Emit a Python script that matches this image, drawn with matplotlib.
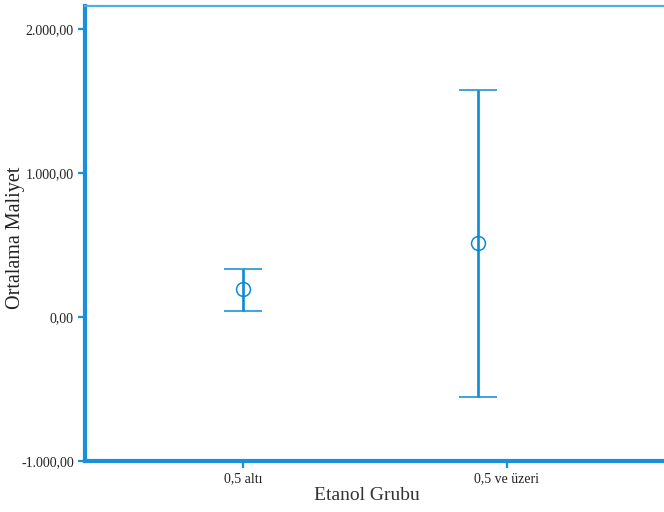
import matplotlib
matplotlib.use("Agg")
import matplotlib.pyplot as plt
from matplotlib.ticker import FuncFormatter

categories = ["0,5 altı", "0,5 ve üzeri"]
means = [194.0, 514.0]
upper = [333.0, 1576.0]
lower = [42.0, -556.0]
y_ticks = [-1000, 0, 1000, 2000]

bar_pos = [0.0, 0.89]
tick_pos = [0.0, 1.0]

blue = "#0b8bd3"
fig = plt.figure(figsize=(6.64, 5.12), dpi=100)
ax = fig.add_axes([85/664, 1-461/512, 580/664, 455/512])

yerr = [[m - l for m, l in zip(means, lower)], [u - m for m, u in zip(means, upper)]]
ax.errorbar(bar_pos, means, yerr=yerr, fmt="o", color=blue, ecolor=blue,
            elinewidth=1.9, capsize=14, capthick=1.9, markersize=10,
            markerfacecolor="none", markeredgecolor=blue, markeredgewidth=1.1)

ax.set_xlim(-0.6, 1.6)
ax.set_ylim(-1000, 2160)
ax.set_xticks(tick_pos)
ax.set_xticklabels(categories)
ax.set_yticks(y_ticks)

def fmt(v, pos):
    s = f"{abs(v):,.2f}".replace(",", "X").replace(".", ",").replace("X", ".")
    return ("-" if v < 0 else "") + s
ax.yaxis.set_major_formatter(FuncFormatter(fmt))

serif = "Liberation Serif"
for lab in ax.get_xticklabels() + ax.get_yticklabels():
    lab.set_fontfamily(serif)
    lab.set_fontsize(10)
    lab.set_color("#222222")

ax.set_xlabel("Etanol Grubu", fontfamily=serif, fontsize=14, color="#333333")
ax.set_ylabel("Ortalama Maliyet", fontfamily=serif, fontsize=14.5, color="#222222")
ax.xaxis.set_label_coords(0.486, -0.057)
ax.yaxis.set_label_coords(-0.103, 0.49)

ax.spines["left"].set_color("#1a90d8")
ax.spines["left"].set_linewidth(3)
ax.spines["bottom"].set_color("#1a90d8")
ax.spines["bottom"].set_linewidth(3)
ax.spines["top"].set_color("#4db0e3")
ax.spines["top"].set_linewidth(1.6)
ax.spines["right"].set_visible(False)
ax.tick_params(axis="both", direction="out", length=5, width=1.6, color="#1a90d8", pad=3)

fig.savefig("out.png", dpi=100)
